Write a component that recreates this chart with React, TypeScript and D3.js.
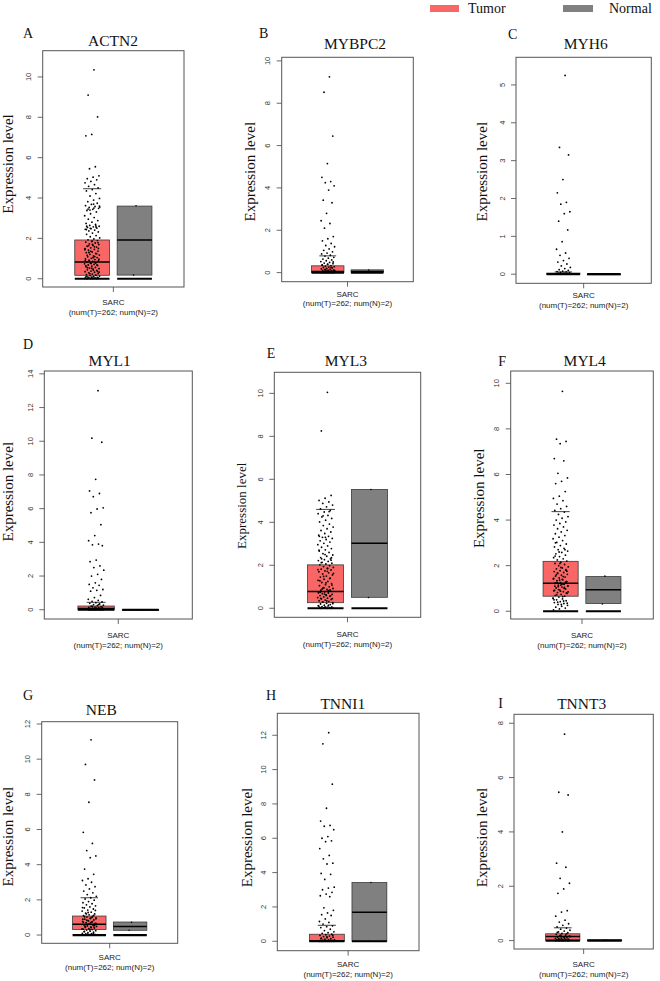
import React from "react";
import * as d3 from "d3";

const genes = ["ACTN2", "MYBPC2", "MYH6", "MYL1", "MYL3", "MYL4", "NEB", "TNNI1", "TNNT3"];
const panelLetters = ["A", "B", "C", "D", "E", "F", "G", "H", "I"];
const groups = ["Tumor", "Normal"];
const cancerLabel = "SARC";
const countLabel = "(num(T)=262; num(N)=2)";

const yTickMax = [10, 10, 5, 14, 10, 10, 12, 12, 8];
const yTickStep = [2, 2, 1, 2, 2, 2, 2, 2, 2];

const tumorQ1 = [0.17, 0.0, 0.0, 0.0, 0.26, 0.66, 0.32, 0.0, 0.01];
const tumorMedian = [0.83, 0.05, 0.0, 0.08, 0.78, 1.23, 0.61, 0.03, 0.15];
const tumorQ3 = [1.92, 0.32, 0.03, 0.22, 2.02, 2.19, 1.08, 0.41, 0.25];
const tumorWhisker = [4.46, 0.79, 0.06, 0.44, 4.6, 4.37, 2.12, 0.93, 0.47];

const normalQ1 = [0.18, 0.0, 0.0, 0.0, 0.51, 0.34, 0.27, 0.0, 0.0];
const normalMedian = [1.92, 0.05, 0.0, 0.0, 3.02, 0.94, 0.49, 1.69, 0.01];
const normalQ3 = [3.6, 0.13, 0.0, 0.0, 5.53, 1.52, 0.74, 3.42, 0.02];

const normalPoints = [
  [3.62, 0.18],
  [0.12, 0.02],
  [0.0, 0.0],
  [0.0, 0.0],
  [5.53, 0.5],
  [1.54, 0.32],
  [0.72, 0.27],
  [3.42, 0.0],
  [0.02, 0.0],
];

const tumorA = [10.35, 9.1, 8.02, 7.15, 7.08, 5.55, 5.45, 5.1, 5.03, 4.96, 4.9, 4.82, 4.75, 4.66, 4.58, 4.5, 4.42, 4.35, 4.22, 4.1, 3.98, 3.9, 3.82, 3.74, 3.68, 3.62, 3.58, 3.53, 3.49, 3.44, 3.38, 3.31, 3.22, 3.12, 3.03, 2.95, 2.88, 2.8, 2.74, 2.69, 2.64, 2.6, 2.57, 2.54, 2.51, 2.48, 2.45, 2.41, 2.37, 2.32, 2.26, 2.2, 2.14, 2.08, 2.02, 1.97, 1.93, 1.89, 1.85, 1.81, 1.77, 1.73, 1.69, 1.65, 1.61, 1.57, 1.53, 1.49, 1.45, 1.41, 1.37, 1.33, 1.29, 1.25, 1.21, 1.17, 1.13, 1.09, 1.05, 1.01, 0.98, 0.95, 0.92, 0.89, 0.86, 0.83, 0.8, 0.77, 0.74, 0.71, 0.68, 0.65, 0.62, 0.59, 0.56, 0.53, 0.5, 0.47, 0.44, 0.41, 0.38, 0.35, 0.32, 0.29, 0.26, 0.23, 0.2, 0.17, 0.15, 0.13, 0.11, 0.09, 0.07, 0.06, 0.05, 0.04, 0.03, 0.02, 0.01, 0.0, 0.0, 0.0, 0.01, 0.02, 0.03, 0.05, 0.08, 0.12, 0.18, 0.25, 0.33, 0.42, 0.55, 0.68, 0.75, 0.9, 1.1, 1.3, 1.5, 1.7, 2.6, 2.55, 2.5, 3.55, 3.5, 3.45, 0.36, 0.52, 0.64, 0.78, 0.88, 0.97, 1.04, 1.16, 1.24, 1.36, 1.44, 1.58, 1.64, 1.78, 1.86, 2.44, 2.62, 3.4, 3.6, 3.7];
const tumorB = [9.25, 8.52, 6.45, 5.15, 4.5, 4.3, 4.25, 4.1, 3.9, 3.42, 3.3, 2.8, 2.45, 2.32, 2.1, 1.7, 1.6, 1.5, 1.38, 1.28, 1.22, 1.12, 1.05, 0.98, 0.92, 0.88, 0.82, 0.78, 0.72, 0.68, 0.64, 0.6, 0.56, 0.52, 0.48, 0.45, 0.42, 0.39, 0.36, 0.33, 0.3, 0.28, 0.26, 0.24, 0.22, 0.2, 0.18, 0.16, 0.14, 0.12, 0.11, 0.1, 0.09, 0.08, 0.07, 0.06, 0.05, 0.04, 0.03, 0.03, 0.02, 0.02, 0.01, 0.01, 0.0, 0.0, 0.0, 0.0, 0.0, 0.0, 0.5, 0.4, 0.35, 0.25, 0.15, 0.1, 0.05, 0.02, 0.0, 0.0];
const tumorC = [5.25, 3.35, 3.15, 2.5, 2.15, 1.9, 1.85, 1.65, 1.6, 1.4, 1.17, 0.86, 0.66, 0.56, 0.5, 0.42, 0.36, 0.32, 0.27, 0.22, 0.18, 0.15, 0.12, 0.1, 0.08, 0.07, 0.06, 0.05, 0.04, 0.03, 0.03, 0.02, 0.02, 0.01, 0.01, 0.01, 0.0, 0.0, 0.0, 0.0, 0.0, 0.0, 0.0, 0.0, 0.0, 0.0, 0.0, 0.0, 0.0, 0.0];
const tumorD = [13.0, 10.18, 9.94, 7.74, 7.05, 6.9, 6.71, 6.05, 5.98, 5.76, 5.05, 4.4, 4.1, 3.9, 3.85, 3.8, 2.95, 2.85, 2.6, 2.5, 2.35, 2.1, 2.0, 1.8, 1.6, 1.5, 1.45, 1.3, 1.2, 1.15, 1.1, 0.85, 0.72, 0.62, 0.55, 0.5, 0.46, 0.42, 0.38, 0.34, 0.3, 0.27, 0.24, 0.21, 0.18, 0.16, 0.14, 0.12, 0.1, 0.09, 0.08, 0.07, 0.06, 0.05, 0.04, 0.03, 0.02, 0.02, 0.01, 0.01, 0.0, 0.0, 0.0, 0.0, 0.0, 0.0, 0.0, 0.0, 0.3, 0.2, 0.15, 0.1, 0.05, 0.03];
const tumorE = [10.05, 8.25, 5.25, 5.12, 5.02, 4.95, 4.88, 4.8, 4.72, 4.62, 4.55, 4.48, 4.4, 4.32, 4.25, 4.18, 4.1, 4.02, 3.92, 3.85, 3.78, 3.7, 3.62, 3.55, 3.48, 3.4, 3.35, 3.3, 3.25, 3.2, 3.14, 3.08, 3.02, 2.96, 2.9, 2.84, 2.78, 2.72, 2.66, 2.6, 2.54, 2.48, 2.42, 2.36, 2.3, 2.26, 2.22, 2.18, 2.14, 2.1, 2.06, 2.02, 1.98, 1.94, 1.9, 1.86, 1.82, 1.78, 1.74, 1.7, 1.65, 1.6, 1.55, 1.5, 1.45, 1.4, 1.35, 1.3, 1.25, 1.2, 1.15, 1.1, 1.05, 1.0, 0.96, 0.92, 0.88, 0.84, 0.8, 0.77, 0.74, 0.71, 0.68, 0.65, 0.62, 0.59, 0.56, 0.53, 0.5, 0.47, 0.44, 0.41, 0.38, 0.35, 0.32, 0.29, 0.26, 0.23, 0.2, 0.17, 0.14, 0.12, 0.1, 0.08, 0.06, 0.05, 0.04, 0.03, 0.02, 0.01, 0.0, 0.0, 0.0, 0.05, 0.1, 0.15, 0.3, 0.45, 0.6, 0.75, 0.85, 0.95, 1.8, 1.85, 2.3, 2.35, 3.3, 3.35, 4.5, 4.3, 0.22, 0.34, 0.46, 0.58, 0.66, 0.72, 0.82, 0.9, 1.08, 1.18, 1.28, 1.38, 1.48, 1.62, 1.72, 2.12, 2.24, 2.5, 2.7];
const tumorF = [9.65, 7.55, 7.45, 7.35, 6.7, 6.6, 6.05, 5.85, 5.7, 5.6, 5.25, 5.05, 4.95, 4.85, 4.7, 4.6, 4.5, 4.42, 4.35, 4.25, 4.15, 4.08, 4.0, 3.92, 3.85, 3.78, 3.7, 3.62, 3.55, 3.48, 3.4, 3.32, 3.25, 3.18, 3.1, 3.02, 2.95, 2.88, 2.82, 2.76, 2.7, 2.64, 2.58, 2.52, 2.46, 2.4, 2.35, 2.3, 2.25, 2.2, 2.15, 2.1, 2.05, 2.0, 1.95, 1.9, 1.86, 1.82, 1.78, 1.74, 1.7, 1.66, 1.62, 1.58, 1.54, 1.5, 1.46, 1.42, 1.38, 1.34, 1.3, 1.26, 1.22, 1.18, 1.14, 1.1, 1.06, 1.02, 0.98, 0.94, 0.9, 0.86, 0.82, 0.78, 0.74, 0.7, 0.66, 0.62, 0.58, 0.54, 0.5, 0.46, 0.42, 0.38, 0.34, 0.3, 0.26, 0.22, 0.18, 0.14, 0.1, 0.06, 1.2, 1.25, 1.3, 1.15, 1.1, 1.05, 0.95, 0.85, 1.4, 1.6, 1.8, 2.1, 0.5, 0.45, 0.4, 0.35, 0.3, 3.0, 2.7, 2.6, 0.56, 0.64, 0.72, 0.8, 0.88, 0.92, 1.0, 1.08, 1.12, 1.18, 1.24, 1.28, 1.36, 1.44, 1.52, 1.68, 1.76, 1.92, 2.42];
const tumorG = [11.1, 9.7, 8.82, 7.55, 5.84, 5.21, 4.8, 4.5, 4.4, 3.75, 3.45, 3.2, 3.1, 3.0, 2.85, 2.75, 2.62, 2.5, 2.4, 2.3, 2.2, 2.12, 2.05, 1.98, 1.9, 1.84, 1.78, 1.72, 1.66, 1.6, 1.54, 1.48, 1.42, 1.36, 1.3, 1.25, 1.2, 1.15, 1.1, 1.06, 1.02, 0.98, 0.94, 0.9, 0.86, 0.82, 0.78, 0.74, 0.7, 0.66, 0.62, 0.58, 0.55, 0.52, 0.49, 0.46, 0.43, 0.4, 0.37, 0.34, 0.31, 0.28, 0.25, 0.22, 0.19, 0.16, 0.13, 0.1, 0.08, 0.06, 0.04, 0.02, 0.0, 0.0, 0.6, 0.65, 0.7, 0.5, 0.45, 0.8, 0.9, 1.0, 1.2, 1.4, 0.3, 0.2, 0.1, 0.05, 0.35, 0.42, 0.48, 0.56, 0.64, 0.72, 0.76, 0.84, 0.92, 0.96, 1.04, 1.12, 1.28, 1.56];
const tumorH = [12.15, 11.5, 9.15, 7.75, 7.0, 6.75, 6.7, 6.5, 6.1, 6.0, 5.85, 5.8, 5.4, 5.0, 4.8, 4.55, 4.5, 3.95, 3.9, 3.6, 3.15, 3.1, 3.0, 2.85, 2.75, 2.65, 2.6, 1.95, 1.8, 1.65, 1.55, 1.5, 1.3, 1.15, 1.1, 1.0, 0.9, 0.85, 0.8, 0.7, 0.62, 0.55, 0.5, 0.46, 0.42, 0.38, 0.34, 0.3, 0.27, 0.24, 0.21, 0.18, 0.15, 0.12, 0.1, 0.08, 0.06, 0.05, 0.04, 0.03, 0.02, 0.01, 0.0, 0.0, 0.0, 0.0, 0.0, 0.0, 0.0, 0.0, 0.35, 0.25, 0.15, 0.05, 0.02];
const tumorI = [7.6, 5.46, 5.36, 4.0, 2.85, 2.7, 2.29, 2.11, 1.9, 1.74, 1.1, 1.05, 0.9, 0.75, 0.68, 0.62, 0.56, 0.5, 0.46, 0.42, 0.38, 0.35, 0.32, 0.29, 0.26, 0.23, 0.2, 0.18, 0.16, 0.14, 0.12, 0.1, 0.09, 0.08, 0.07, 0.06, 0.05, 0.04, 0.03, 0.02, 0.02, 0.01, 0.01, 0.0, 0.0, 0.0, 0.0, 0.0, 0.0, 0.0, 0.0, 0.3, 0.25, 0.2, 0.15, 0.1, 0.05];
const tumorPoints = [tumorA, tumorB, tumorC, tumorD, tumorE, tumorF, tumorG, tumorH, tumorI];

// Layout (pixel geometry of each panel)
const layouts = [
  { left: 42.7, right: 184, top: 50.7, bottom: 287, lo: -0.41, hi: 11.3, letterX: 23, letterY: 38, titleX: 113, titleY: 45.5, ylabX: 12.5, ylabY: 164, ylabSize: 15, sarcY: 305, numY: 314.5 },
  { left: 281.7, right: 413.3, top: 57.3, bottom: 281.7, lo: -0.43, hi: 10.17, letterX: 259, letterY: 38, titleX: 355, titleY: 49, ylabX: 254.7, ylabY: 171.7, ylabSize: 15, sarcY: 296.5, numY: 306 },
  { left: 516, right: 651.3, top: 57.3, bottom: 283.3, lo: -0.24, hi: 5.73, letterX: 508, letterY: 39.3, titleX: 585.7, titleY: 49, ylabX: 486.7, ylabY: 171.7, ylabSize: 15, sarcY: 298.3, numY: 308 },
  { left: 44.3, right: 192.3, top: 371, bottom: 619, lo: -0.55, hi: 14.17, letterX: 23, letterY: 349.3, titleX: 109.7, titleY: 365.7, ylabX: 12.7, ylabY: 491.7, ylabSize: 15, sarcY: 637.7, numY: 647.5 },
  { left: 274.3, right: 420.7, top: 372.3, bottom: 617.3, lo: -0.42, hi: 10.98, letterX: 266.7, letterY: 358.3, titleX: 345.8, titleY: 365.7, ylabX: 246, ylabY: 505.8, ylabSize: 13, sarcY: 636.7, numY: 646.5 },
  { left: 510.7, right: 653.3, top: 371, bottom: 619, lo: -0.34, hi: 10.54, letterX: 498.3, letterY: 365.7, titleX: 584.7, titleY: 365.7, ylabX: 484.3, ylabY: 498.3, ylabSize: 15, sarcY: 637.7, numY: 647.5 },
  { left: 41.7, right: 177.7, top: 721.7, bottom: 943.3, lo: -0.47, hi: 12.13, letterX: 23, letterY: 700, titleX: 101.3, titleY: 715, ylabX: 12.7, ylabY: 836.7, ylabSize: 15, sarcY: 960, numY: 969.5 },
  { left: 277.3, right: 419, top: 713.3, bottom: 950.7, lo: -0.55, hi: 13.28, letterX: 266, letterY: 700, titleX: 342.8, titleY: 709, ylabX: 252, ylabY: 837.5, ylabSize: 15, sarcY: 966.7, numY: 976.5 },
  { left: 514, right: 653.3, top: 714.3, bottom: 949, lo: -0.31, hi: 8.33, letterX: 498.3, letterY: 708.3, titleX: 581.7, titleY: 709, ylabX: 487, ylabY: 837.5, ylabSize: 15, sarcY: 966.7, numY: 976.5 },
];

const TUMOR_FILL = "#F86666";
const NORMAL_FILL = "#808080";
const SERIF = '"Liberation Serif", "Times New Roman", serif';
const SANS = '"Liberation Sans", Arial, sans-serif';
const serifStyle = { fontFamily: SERIF };
const sansStyle = { fontFamily: SANS };

function Panel({ i }: { i: number }) {
  const L = layouts[i];
  const w = L.right - L.left;
  const y = d3.scaleLinear().domain([L.lo, L.hi]).range([L.bottom, L.top]);
  const x = d3
    .scaleBand<string>()
    .domain(groups)
    .range([L.left + 0.2 * w, L.right - 0.2 * w])
    .paddingInner(0);
  const bw = x.bandwidth() * 0.82;
  const ticks = d3.range(0, yTickMax[i] + yTickStep[i] / 2, yTickStep[i]);
  const stats = [
    { g: "Tumor", q1: tumorQ1[i], med: tumorMedian[i], q3: tumorQ3[i], wh: tumorWhisker[i], fill: TUMOR_FILL },
    { g: "Normal", q1: normalQ1[i], med: normalMedian[i], q3: normalQ3[i], wh: null as number | null, fill: NORMAL_FILL },
  ];
  const jw = bw * 0.22;
  const jitter = (k: number) => ((((k + 1) * 0.6180339887) % 1) - 0.5) * 2 * jw;
  const cx = (g: string) => (x(g) as number) + x.bandwidth() / 2;

  return (
    <g>
      <text x={L.letterX} y={L.letterY} style={serifStyle} fontSize={14} fill="#111">
        {panelLetters[i]}
      </text>
      <text x={L.titleX} y={L.titleY} style={serifStyle} fontSize={15.5} textAnchor="middle" fill="#111">
        {genes[i]}
      </text>
      <text
        transform={`translate(${L.ylabX},${L.ylabY}) rotate(-90)`}
        style={serifStyle}
        fontSize={L.ylabSize}
        textAnchor="middle"
        fill="#111"
      >
        Expression level
      </text>
      {ticks.map((t) => (
        <g key={t}>
          <line x1={L.left - 5} x2={L.left} y1={y(t)} y2={y(t)} stroke="#444" strokeWidth={0.8} />
          <text
            transform={`translate(${L.left - 11.5},${y(t)}) rotate(-90)`}
            style={sansStyle}
            fontSize={7.5}
            textAnchor="middle"
            fill="#333"
          >
            {t}
          </text>
        </g>
      ))}
      {stats.map((s) => {
        const c = cx(s.g);
        return (
          <g key={s.g}>
            <rect
              x={c - bw / 2}
              y={y(s.q3)}
              width={bw}
              height={Math.max(0.6, y(s.q1) - y(s.q3))}
              fill={s.fill}
              stroke="#3a3a3a"
              strokeWidth={0.8}
            />
            <line x1={c - bw / 2} x2={c + bw / 2} y1={y(s.med)} y2={y(s.med)} stroke="#000" strokeWidth={1.5} />
            <line x1={c - bw / 2} x2={c + bw / 2} y1={y(0)} y2={y(0)} stroke="#000" strokeWidth={2.2} />
            {s.wh !== null && (
              <line x1={c - bw * 0.26} x2={c + bw * 0.26} y1={y(s.wh)} y2={y(s.wh)} stroke="#111" strokeWidth={0.8} />
            )}
          </g>
        );
      })}
      {tumorPoints[i].map((v, k) => (
        <circle key={k} cx={cx("Tumor") + jitter(k)} cy={y(v)} r={0.9} fill="#000" />
      ))}
      {normalPoints[i].map((v, k) => (
        <circle key={"n" + k} cx={cx("Normal") + (k === 0 ? 1.5 : -1)} cy={y(v)} r={0.8} fill="#000" />
      ))}
      <rect x={L.left} y={L.top} width={w} height={L.bottom - L.top} fill="none" stroke="#555" strokeWidth={1} />
      <line x1={L.left + w / 2} x2={L.left + w / 2} y1={L.bottom} y2={L.bottom + 5} stroke="#444" strokeWidth={0.8} />
      <text x={L.left + w / 2} y={L.sarcY} style={sansStyle} fontSize={8} textAnchor="middle" fill="#222">
        {cancerLabel}
      </text>
      <text x={L.left + w / 2} y={L.numY} style={sansStyle} fontSize={8} textAnchor="middle" fill="#222">
        {countLabel}
      </text>
    </g>
  );
}

export default function App() {
  return (
    <svg
      width={660}
      height={981}
      viewBox="0 0 660 981"
      style={{ position: "absolute", left: 0, top: 0, background: "#fff" }}
    >
      <rect x={0} y={0} width={660} height={981} fill="#fff" />
      <rect x={430} y={5} width={29} height={7} fill={TUMOR_FILL} />
      <text x={468} y={13} style={serifStyle} fontSize={14} fill="#111">
        {groups[0]}
      </text>
      <rect x={563} y={5} width={30} height={7} fill={NORMAL_FILL} />
      <text x={609} y={13} style={serifStyle} fontSize={14} fill="#111">
        {groups[1]}
      </text>
      {genes.map((_, i) => (
        <Panel key={i} i={i} />
      ))}
    </svg>
  );
}
